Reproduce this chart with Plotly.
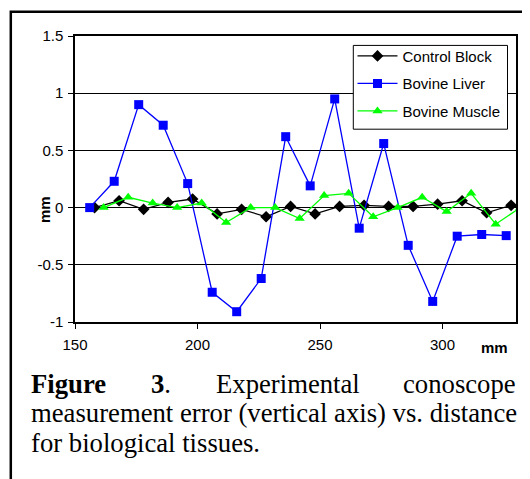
import plotly.graph_objects as go

# ---- data ----
control_x = [158, 168, 178, 188, 198, 208, 218, 228, 238, 248, 258, 268, 278, 288, 298, 308, 318, 328]
control_y = [0.0, 0.06, -0.015, 0.045, 0.075, -0.055, -0.015, -0.08, 0.01, -0.055, 0.01, 0.02, 0.01, 0.01, 0.03, 0.06, -0.045, 0.02]

liver_x = [156, 166, 176, 186, 196, 206, 216, 226, 236, 246, 256, 266, 276, 286, 296, 306, 316, 326]
liver_y = [0.0, 0.23, 0.90, 0.72, 0.21, -0.74, -0.91, -0.62, 0.62, 0.19, 0.95, -0.18, 0.56, -0.33, -0.82, -0.25, -0.235, -0.245]

muscle_x = [161.7, 171.7, 181.7, 191.7, 201.7, 211.7, 221.7, 231.7, 241.7, 251.7, 261.7, 271.7, 281.7, 291.7, 301.7, 311.7, 321.7, 331.7]
muscle_y = [0.0, 0.09, 0.04, 0.0, 0.04, -0.13, 0.0, 0.0, -0.095, 0.105, 0.125, -0.08, 0.0, 0.09, -0.035, 0.125, -0.145, 0.0]

series_names = ["Control Block", "Bovine Liver", "Bovine Muscle"]

x_tickvals = [150, 200, 250, 300]
x_ticktext = ["150", "200", "250", "300"]
y_tickvals = [-1, -0.5, 0, 0.5, 1, 1.5]
y_ticktext = ["-1", "-0.5", "0", "0.5", "1", "1.5"]

caption_line1 = ["<b>Figure</b>", "<b>3</b>.", "Experimental", "conoscope"]
caption_line2 = "measurement error (vertical axis) vs. distance"
caption_line3 = "for biological tissues."

# ---- layout geometry (pixels, in page coordinates) ----
OFF = 8                      # default body margin of the html page
W, H = 530 - OFF, 479 - OFF
PL, PR, PT, PB = 75, 516, 36.3, 321.7


def xp(px):
    return (px - PL) / (PR - PL)


def yp(py):
    return (PB - py) / (PB - PT)


SANS = "Liberation Sans, Arial, sans-serif"
SERIF = "Liberation Serif, Times New Roman, serif"

fig = go.Figure()
fig.add_trace(go.Scatter(
    x=control_x, y=control_y, mode="lines+markers", name=series_names[0],
    legendgroup="a",
    line=dict(color="black", width=1.3),
    marker=dict(symbol="diamond", size=9, color="black"),
))
fig.add_trace(go.Scatter(
    x=liver_x, y=liver_y, mode="lines+markers", name=series_names[1],
    legendgroup="b",
    line=dict(color="#0000FF", width=1.3),
    marker=dict(symbol="square", size=9, color="#0000FF"),
))
fig.add_trace(go.Scatter(
    x=muscle_x, y=muscle_y, mode="lines+markers", name=series_names[2],
    legendgroup="c",
    line=dict(color="#00FF00", width=1.3),
    marker=dict(symbol="triangle-up", size=9, color="#00FF00"),
))

axis_common = dict(
    showline=True, linecolor="black", linewidth=1.5, mirror=True,
    ticks="outside", ticklen=5, tickcolor="black", tickwidth=1,
    tickfont=dict(family=SANS, size=15, color="black"),
)

fig.update_xaxes(
    range=[150, 330], tickvals=x_tickvals, ticktext=x_ticktext,
    showgrid=False, zeroline=False, ticklabelstandoff=3, **axis_common,
)
fig.update_yaxes(
    range=[-1, 1.5], tickvals=y_tickvals, ticktext=y_ticktext,
    showgrid=True, gridcolor="black", gridwidth=1,
    zeroline=True, zerolinecolor="black", zerolinewidth=1.3,
    ticklabelstandoff=2,
    **axis_common,
)

annotations = [
    dict(text="<b>mm</b>", x=xp(44), y=yp(210), textangle=-90,
         font=dict(family=SANS, size=15, color="black")),
    dict(text="<b>mm</b>", x=xp(494.7), y=yp(347),
         font=dict(family=SANS, size=15, color="black")),
    # caption, line 1 (justified)
    dict(text=caption_line1[0], x=xp(29), y=yp(384), xanchor="left"),
    dict(text=caption_line1[1], x=xp(149), y=yp(384), xanchor="left"),
    dict(text=caption_line1[2], x=xp(214), y=yp(384), xanchor="left"),
    dict(text=caption_line1[3], x=xp(518), y=yp(384), xanchor="right"),
    dict(text=caption_line2, x=xp(29), y=yp(413), xanchor="left"),
    dict(text=caption_line3, x=xp(29), y=yp(442), xanchor="left"),
]
for a in annotations:
    a.setdefault("font", dict(family=SERIF, size=26.7, color="black"))
    a.update(xref="paper", yref="paper", showarrow=False, yanchor="middle")
    a.setdefault("xanchor", "center")

fig.update_layout(
    width=W, height=H,
    margin=dict(l=PL - OFF, r=W - (PR - OFF), t=PT - OFF, b=H - (PB - OFF), pad=0),
    paper_bgcolor="white", plot_bgcolor="white",
    showlegend=True,
    legend=dict(
        x=xp(352.5), y=yp(40), xanchor="left", yanchor="top",
        bgcolor="rgba(0,0,0,0)", borderwidth=0,
        font=dict(family=SANS, size=15, color="black"),
        traceorder="grouped", tracegroupgap=5,
        itemwidth=40,
    ),
    annotations=annotations,
    shapes=[
        dict(  # outer frame of the figure
            type="rect", xref="paper", yref="paper",
            x0=xp(10.8), x1=xp(560), y0=yp(12.2), y1=yp(520),
            line=dict(color="black", width=2.5), fillcolor="rgba(0,0,0,0)",
            layer="above",
        ),
        dict(  # legend box
            type="rect", xref="paper", yref="paper",
            x0=xp(353.3), x1=xp(507.5), y0=yp(45.7), y1=yp(129.3),
            line=dict(color="black", width=1), fillcolor="white",
            layer="above",
        ),
    ],
)

fig.write_html("out.html")
